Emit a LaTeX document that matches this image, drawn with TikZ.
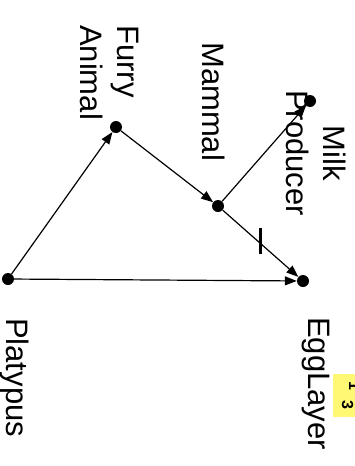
\documentclass[tikz,border=0pt]{standalone}
\usepackage{fontspec}
\setmainfont{Liberation Sans}
\usetikzlibrary{arrows.meta,calc}
\begin{document}
\begin{tikzpicture}[x=1pt,y=-1pt,
  dotnode/.style={circle,fill=black,inner sep=0pt,minimum size=12pt},
  lbl/.style={rotate=-90,inner sep=0pt,anchor=base west,font=\fontsize{31}{37}\selectfont},
  edge/.style={line width=1.2pt,-{Triangle[length=12pt,width=9pt]}},
  pagebox/.style={fill=yellow!55}]
\useasboundingbox (0,0) rectangle (355,466);
% dots
\node[dotnode] (plat) at (8,279) {};
\node[dotnode] (furry) at (116,127) {};
\node[dotnode] (mam) at (218,206) {};
\node[dotnode] (milk) at (310,101) {};
\node[dotnode] (egg) at (303,281) {};
% labels
\node[lbl] (lplat) at (6.5,318) {Platypus};
\node[lbl,align=left] (lfurry) at (80,25) {Furry\\Animal};
\node[lbl] (lmam) at (202,42) {Mammal};
\node[lbl,align=center] (lmilk) at (286,90) {Milk\\Producer};
\node[lbl] (legg) at (308.5,317) {EggLayer};
% edges
\draw[edge] (plat) -- (furry);
\draw[edge] (plat) -- (egg);
\draw[edge] (furry) -- (mam);
\draw[edge] (mam) -- (milk);
\draw[edge] (mam) -- (egg);
\coordinate (bar) at ($(mam)!0.5!(egg)$);
\draw[line width=2.5pt] ([yshift=16pt]bar) -- ([yshift=-10pt]bar);
% page box
\fill[pagebox] (333,374) rectangle (360,417);
\node[rotate=-90,inner sep=0pt,anchor=base west,font=\fontsize{16}{18}\selectfont\bfseries] (pone) at (349,381) {1};
\node[rotate=-90,inner sep=0pt,anchor=base west,font=\fontsize{16}{18}\selectfont\bfseries] (pthree) at (342,400) {3};
\end{tikzpicture}
\end{document}
